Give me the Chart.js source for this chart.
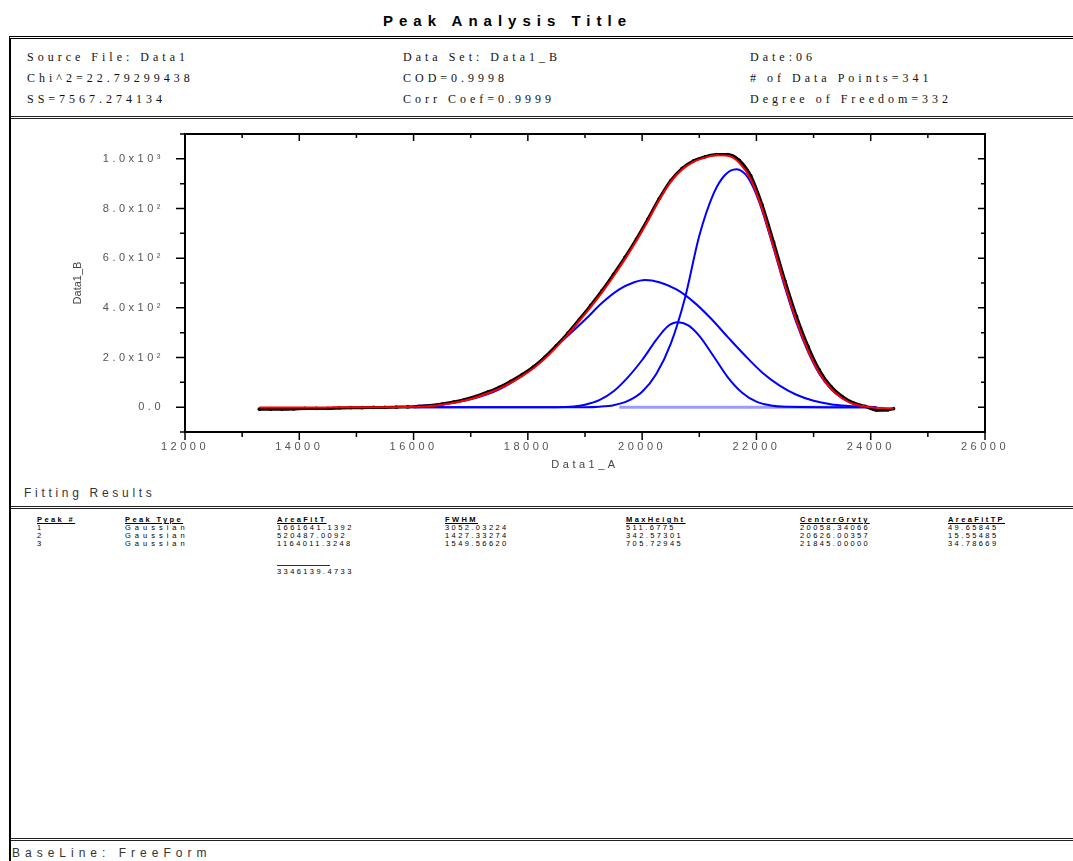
<!DOCTYPE html>
<html>
<head>
<meta charset="utf-8">
<script src="https://cdn.jsdelivr.net/npm/chart.js@4.4.0/dist/chart.umd.min.js"></script>
<style>
  body { margin: 0; background: #fff; width: 1073px; height: 861px; overflow: hidden; position: relative; font-family: "Liberation Sans", Arial, sans-serif; }
  .abs { position: absolute; white-space: nowrap; }
  #titulo { left: 0; width: 1015px; top: 12px; text-align: center; font-weight: bold; font-size: 15px; letter-spacing: 6px; line-height: 18px; }
  #caixa { position: absolute; left: 9px; top: 36px; width: 1100px; height: 840px; border-left: 2px solid #000; border-top: 3px double #000; }
  .linha { position: absolute; left: 11px; width: 1070px; border-top: 3px double #222; }
  .cab { font-family: "Liberation Serif", "Times New Roman", serif; font-size: 12px; letter-spacing: 4px; line-height: 14px; color: #111; }
  .rot { font-size: 12px; letter-spacing: 3.7px; line-height: 14px; color: #333; }
  .tab { font-size: 7.5px; line-height: 8px; letter-spacing: 2.4px; color: #000; }
  .tab b { text-decoration: underline; }
  #grafico { position: absolute; left: 0; top: 120px; }
</style>
</head>
<body>
<div id="titulo" class="abs">Peak Analysis Title</div>
<div id="caixa"></div>

<div class="abs cab" style="left:27px;top:50px">Source File: Data1</div>
<div class="abs cab" style="left:27px;top:71px">Chi^2=22.79299438</div>
<div class="abs cab" style="left:27px;top:92px">SS=7567.274134</div>
<div class="abs cab" style="left:403px;top:50px">Data Set: Data1_B</div>
<div class="abs cab" style="left:403px;top:71px">COD=0.9998</div>
<div class="abs cab" style="left:403px;top:92px">Corr Coef=0.9999</div>
<div class="abs cab" style="left:750px;top:50px">Date:06</div>
<div class="abs cab" style="left:750px;top:71px"># of Data Points=341</div>
<div class="abs cab" style="left:750px;top:92px">Degree of Freedom=332</div>
<div class="linha" style="top:116px"></div>

<canvas id="grafico" width="1010" height="365"></canvas>

<div class="abs rot" style="left:24px;top:486px">Fitting Results</div>
<div class="linha" style="top:506px"></div>

<div class="abs tab" style="left:37px;top:516px"><b>Peak #</b><br>1<br>2<br>3</div>
<div class="abs tab" style="left:125px;top:516px;letter-spacing:4px"><b style="letter-spacing:2.4px">Peak Type</b><br>Gaussian<br>Gaussian<br>Gaussian</div>
<div class="abs tab" style="left:277px;top:516px"><b>AreaFitT</b><br>1661641.1392<br>520487.0092<br>1164011.3248</div>
<div class="abs" style="left:277px;top:565px;width:53px;border-top:1.5px solid #333"></div>
<div class="abs tab" style="left:277px;top:568px">3346139.4733</div>
<div class="abs tab" style="left:445px;top:516px"><b>FWHM</b><br>3052.03224<br>1427.33274<br>1549.56620</div>
<div class="abs tab" style="left:626px;top:516px"><b>MaxHeight</b><br>511.6775<br>342.57301<br>705.72945</div>
<div class="abs tab" style="left:800px;top:516px"><b>CenterGrvty</b><br>20058.34066<br>20626.00357<br>21845.00000</div>
<div class="abs tab" style="left:948px;top:516px"><b>AreaFitTP</b><br>49.65845<br>15.55485<br>34.78669</div>

<div class="linha" style="top:838px"></div>
<div class="abs rot" style="left:12px;top:846px;letter-spacing:5px">BaseLine: FreeForm</div>

<script>
// dados medidos (pontos pretos) e curva ajustada (vermelha)
var dadosX = [13300, 13500, 13700, 13900, 14100, 14300, 14500, 14700, 14900, 15100, 15300, 15500, 15700, 15900,
  16100, 16300, 16500, 16700, 16900, 17100, 17300, 17500, 17700, 17900, 18100, 18300, 18500, 18700, 18900,
  19100, 19300, 19500, 19700, 19900, 20100, 20300, 20500, 20700, 20900, 21100, 21300, 21500, 21700, 21900,
  22100, 22300, 22500, 22700, 22900, 23100, 23300, 23500, 23700, 23900, 24100, 24300, 24400];
var dadosY = [-8, -8, -8, -7, -5, -5, -5, -3, -2, -2, -1, -1, 0, 1,
  3, 7, 13, 21, 31, 44, 61, 80, 104, 131, 163, 202, 248, 298, 353,
  410, 470, 535, 603, 677, 757, 840, 912, 962, 992, 1008, 1017, 1017, 994, 932,
  814, 664, 508, 366, 246, 150, 84, 43, 17, 3, -12, -11, -6];
var ajusteY = [-1, -1, -1, -1, -1, -1, -1, 0, 0, 0, 0, 0, 0, 1,
  2, 5, 10, 17, 27, 40, 56, 75, 98, 125, 157, 196, 242, 292, 347,
  403, 462, 527, 596, 670, 750, 834, 907, 957, 988, 1005, 1014, 1012, 984, 918,
  798, 645, 490, 348, 230, 138, 75, 36, 13, 3, -2, -4, -4];

// picos gaussianos (azul)
var pico1X = [16000, 16500, 17000, 17500, 18000, 18500, 19000, 19300, 19600, 19850, 20050, 20300, 20600, 20900,
  21200, 21500, 21800, 22100, 22400, 22700, 23000, 23300, 23600, 23900, 24100];
var pico1Y = [4, 12, 32, 72, 144, 246, 352, 420, 474, 502, 512, 503, 474, 424,
  358, 282, 208, 140, 88, 50, 26, 12, 5, 1, 0];
var pico2X = [16000, 18500, 18800, 19000, 19250, 19500, 19750, 20000, 20250, 20450, 20627, 20800, 21000,
  21250, 21500, 21750, 22000, 22250, 22500, 24100];
var pico2Y = [0, 0, 3, 10, 28, 64, 120, 190, 272, 326, 342, 330, 287,
  205, 120, 58, 22, 7, 2, 0];
var pico3X = [16000, 19000, 19250, 19500, 19750, 20000, 20250, 20500, 20750, 21000, 21250, 21450, 21650,
  21850, 22050, 22300, 22500, 22700, 22900, 23100, 23300, 23500, 23700, 23900, 24100];
var pico3Y = [0, 0, 2, 8, 25, 62, 135, 255, 440, 690, 860, 935, 958,
  925, 826, 640, 482, 340, 225, 135, 74, 36, 13, 3, 0];
var linhaBaseX = [19600, 24000];
var linhaBaseY = [0, 0];

var ticksYValores = [0, 200, 400, 600, 800, 1000];
var ticksYRotulos = ["0.0", "2.0x10²", "4.0x10²", "6.0x10²", "8.0x10²", "1.0x10³"];
var ticksXValores = [12000, 14000, 16000, 18000, 20000, 22000, 24000, 26000];
var ticksXRotulos = ["12000", "14000", "16000", "18000", "20000", "22000", "24000", "26000"];

function pontos(xs, ys) {
  return xs.map(function (x, i) { return { x: x, y: ys[i] }; });
}

function curva(rotulo, xs, ys, cor, largura, ordem) {
  return {
    label: rotulo,
    data: pontos(xs, ys),
    showLine: true,
    borderColor: cor,
    borderWidth: largura,
    pointRadius: 0,
    cubicInterpolationMode: "monotone",
    order: ordem,
  };
}

// moldura de cima/direita e marcas de escala no estilo do Origin
var moldura = {
  id: "moldura",
  afterLayout: function (chart) {
    var escalaY = chart.scales.y;
    if (!escalaY.tituloSemEspaco) {
      var original = escalaY.drawTitle;
      escalaY.drawTitle = function () {
        this.ctx.save();
        this.ctx.letterSpacing = "0px";
        original.call(this);
        this.ctx.restore();
      };
      escalaY.tituloSemEspaco = true;
    }
  },
  beforeDraw: function (chart) {
    chart.ctx.letterSpacing = "3.5px";
  },
  beforeDatasetsDraw: function (chart) {
    var ctx = chart.ctx;
    var a = chart.chartArea;
    var ex = chart.scales.x;
    var ey = chart.scales.y;
    ctx.save();
    ctx.strokeStyle = "#000";
    ctx.lineWidth = 2;
    ctx.beginPath();
    ctx.moveTo(a.left, a.top);
    ctx.lineTo(a.right, a.top);
    ctx.lineTo(a.right, a.bottom);
    ctx.stroke();
    ctx.lineWidth = 1.5;
    ctx.beginPath();
    ex.ticks.forEach(function (t) {
      var px = ex.getPixelForValue(t.value);
      var maior = t.value % 2000 === 0;
      ctx.moveTo(px, a.bottom);
      ctx.lineTo(px, a.bottom + (maior ? 8 : 5));
      ctx.moveTo(px, a.top);
      ctx.lineTo(px, a.top + (maior ? 7 : 4));
    });
    ey.ticks.forEach(function (t) {
      var py = ey.getPixelForValue(t.value);
      var maior = t.value % 200 === 0;
      ctx.moveTo(a.left, py);
      ctx.lineTo(a.left - (maior ? 9 : 5), py);
      ctx.moveTo(a.right, py);
      ctx.lineTo(a.right - (maior ? 7 : 4), py);
    });
    ctx.stroke();
    ctx.restore();
  },
};

function plotarGrafico() {
  Chart.defaults.font.family = "'Liberation Sans', Arial, sans-serif";
  var pretos = curva("Data1_B", dadosX, dadosY, "#000000", 3, 1);
  pretos.pointRadius = 1.8;
  pretos.pointBackgroundColor = "#000000";
  pretos.pointBorderWidth = 0;

  const data = {
    datasets: [
      curva("Fit", dadosX, ajusteY, "#ff0000", 2, 0),
      pretos,
      curva("Peak 1", pico1X, pico1Y, "#0000ff", 2, 2),
      curva("Peak 2", pico2X, pico2Y, "#0000ff", 2, 2),
      curva("Peak 3", pico3X, pico3Y, "#0000ff", 2, 2),
      curva("BaseLine", linhaBaseX, linhaBaseY, "#9a9aff", 3, 3),
    ],
  };

  const config = {
    type: "scatter",
    data: data,
    plugins: [moldura],
    options: {
      responsive: false,
      animation: false,
      devicePixelRatio: 1,
      layout: { padding: { left: 0, right: 25, top: 14, bottom: 0 } },
      plugins: { legend: { display: false }, tooltip: { enabled: false } },
      scales: {
        x: {
          type: "linear",
          min: 12000,
          max: 26000,
          afterFit: function (s) {
            s.height = 53;
            s.paddingLeft = 0;
            s.paddingRight = 0;
          },
          grid: { display: false, drawTicks: false },
          border: { display: true, color: "#000", width: 2 },
          ticks: {
            stepSize: 1000,
            autoSkip: false,
            maxRotation: 0,
            padding: 8,
            color: "#555",
            font: { size: 11 },
            callback: function (v) {
              var i = ticksXValores.indexOf(v);
              return i >= 0 ? ticksXRotulos[i] : "";
            },
          },
          title: { display: true, text: "Data1_A", color: "#444", font: { size: 11 }, padding: { top: 0, bottom: 13 } },
        },
        y: {
          type: "linear",
          min: -100,
          max: 1100,
          afterFit: function (s) {
            s.width = 185;
            s.paddingTop = 0;
            s.paddingBottom = 0;
          },
          grid: { display: false, drawTicks: false },
          border: { display: true, color: "#000", width: 2 },
          ticks: {
            stepSize: 100,
            autoSkip: false,
            padding: 21,
            color: "#555",
            font: { size: 11 },
            callback: function (v) {
              var i = ticksYValores.indexOf(v);
              return i >= 0 ? ticksYRotulos[i] : "";
            },
          },
          title: { display: true, text: "Data1_B", color: "#444", font: { size: 11 }, padding: { top: 71, bottom: 0 } },
        },
      },
    },
  };
  return new Chart(document.getElementById("grafico"), config);
}

plotarGrafico();
</script>
</body>
</html>
